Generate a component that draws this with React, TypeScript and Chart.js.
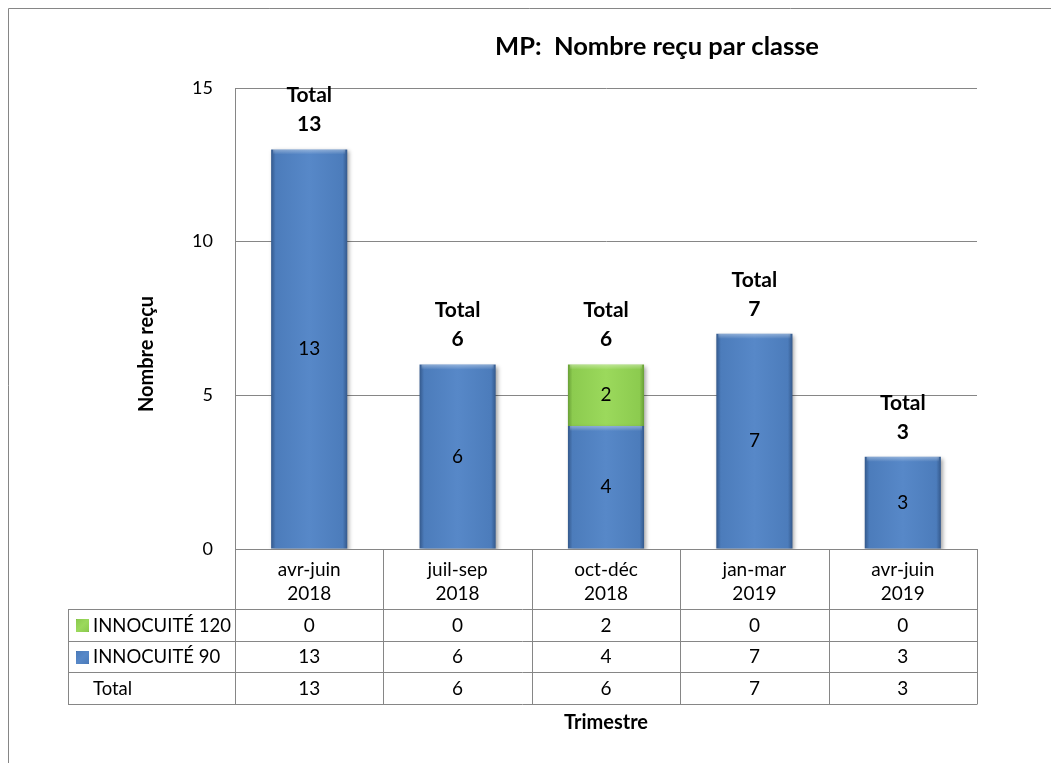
import React, { useEffect, useRef } from 'react';
import { Chart, registerables } from 'chart.js';

Chart.register(...registerables);

const categories: string[][] = [
  ['avr-juin', '2018'],
  ['juil-sep', '2018'],
  ['oct-déc', '2018'],
  ['jan-mar', '2019'],
  ['avr-juin', '2019'],
];
const innocuite120 = [0, 0, 2, 0, 0];
const innocuite90 = [13, 6, 4, 7, 3];
const totals = [13, 6, 6, 7, 3];
const seriesNames = ['INNOCUITÉ 120', 'INNOCUITÉ 90', 'Total'];
const yMin = 0;
const yMax = 15;
const yStep = 5;
const chartTitle = 'MP:  Nombre reçu par classe';
const yAxisTitle = 'Nombre reçu';
const xAxisTitle = 'Trimestre';

const FONT = 'Lato, "Open Sans", sans-serif';
const LINE = '#868686';
const W = 1051;
const H = 763;

const blueStops: [number, string][] = [
  [0, '#34598c'], [0.06, '#4c7cbb'], [0.5, '#5788c8'], [0.94, '#4c7cbb'], [1, '#34598c'],
];
const greenStops: [number, string][] = [
  [0, '#689f36'], [0.06, '#8ccb4f'], [0.5, '#9bd95c'], [0.94, '#8ccb4f'], [1, '#689f36'],
];

function barGradient(stops: [number, string][], solid: string) {
  return (ctx: any) => {
    const chart = ctx.chart;
    const xs = chart.scales?.x;
    if (!chart.chartArea || !xs || ctx.dataIndex === undefined) return solid;
    const cx = xs.getPixelForValue(ctx.dataIndex);
    const colW = xs.getPixelForValue(1) - xs.getPixelForValue(0);
    const half = (colW * 0.513) / 2;
    const g = chart.ctx.createLinearGradient(cx - half, 0, cx + half, 0);
    stops.forEach(([o, c]) => g.addColorStop(o, c));
    return g;
  };
}

const decorPlugin = {
  id: 'excelDecor',
  beforeDraw(chart: any) {
    const ctx = chart.ctx;
    ctx.save();
    ctx.fillStyle = '#ffffff';
    ctx.fillRect(0, 0, chart.width, chart.height);
    ctx.strokeStyle = LINE;
    ctx.lineWidth = 1;
    ctx.beginPath();
    ctx.moveTo(8.5, chart.height);
    ctx.lineTo(8.5, 8.5);
    ctx.lineTo(chart.width, 8.5);
    ctx.stroke();
    ctx.restore();
  },
  beforeDatasetsDraw(chart: any) {
    const ctx = chart.ctx;
    ctx.save();
    ctx.shadowColor = 'rgba(0,0,0,0.35)';
    ctx.shadowBlur = 4;
    ctx.shadowOffsetX = 2;
    ctx.shadowOffsetY = 2;
  },
  afterDatasetsDraw(chart: any) {
    const ctx = chart.ctx;
    ctx.restore();
    ctx.save();
    // top bevel highlight on each stack segment
    chart.data.datasets.forEach((ds: any, di: number) => {
      const meta = chart.getDatasetMeta(di);
      meta.data.forEach((bar: any, i: number) => {
        if (!ds.data[i]) return;
        const p = bar.getProps(['x', 'y', 'base', 'width'], true);
        const g = ctx.createLinearGradient(0, p.y, 0, p.y + 5);
        g.addColorStop(0, 'rgba(255,255,255,0.35)');
        g.addColorStop(1, 'rgba(255,255,255,0)');
        ctx.fillStyle = g;
        ctx.fillRect(p.x - p.width / 2 + 2, p.y, p.width - 4, 5);
      });
    });
    // segment value labels
    ctx.textAlign = 'center';
    ctx.textBaseline = 'middle';
    ctx.fillStyle = '#000000';
    ctx.font = `19px ${FONT}`;
    chart.data.datasets.forEach((ds: any, di: number) => {
      const meta = chart.getDatasetMeta(di);
      meta.data.forEach((bar: any, i: number) => {
        const v = ds.data[i];
        if (!v) return;
        const p = bar.getProps(['x', 'y', 'base'], true);
        ctx.fillText(String(v), p.x, (p.y + p.base) / 2);
      });
    });
    // totals above bars
    const xs = chart.scales.x;
    const ys = chart.scales.y;
    ctx.font = `bold 21px ${FONT}`;
    totals.forEach((t, i) => {
      const x = xs.getPixelForValue(i);
      const top = ys.getPixelForValue(t);
      ctx.fillText('Total', x, top - 54);
      ctx.fillText(String(t), x, top - 25);
    });
    ctx.restore();
  },
  afterDraw(chart: any) {
    const ctx = chart.ctx;
    const xs = chart.scales.x;
    const { left, right, top, bottom } = chart.chartArea;
    const n = categories.length;
    const colW = xs.getPixelForValue(1) - xs.getPixelForValue(0);
    const bounds: number[] = [];
    for (let i = 0; i <= n; i++) bounds.push(xs.getPixelForValue(i) - colW / 2);
    const hdrB = bottom + 60;
    const rowH = 31.5;
    const tblL = 68;
    const tblB = hdrB + rowH * 3;

    ctx.save();
    ctx.strokeStyle = LINE;
    ctx.lineWidth = 1;
    ctx.beginPath();
    const hl = (x1: number, x2: number, y: number) => {
      const yy = Math.round(y) + 0.5;
      ctx.moveTo(x1, yy);
      ctx.lineTo(x2, yy);
    };
    const vl = (x: number, y1: number, y2: number) => {
      const xx = Math.round(x) + 0.5;
      ctx.moveTo(xx, y1);
      ctx.lineTo(xx, y2);
    };
    hl(left, right, bottom);
    for (let r = 0; r <= 3; r++) hl(tblL, right, hdrB + r * rowH);
    vl(tblL, Math.round(hdrB) + 0.5, Math.round(tblB) + 0.5);
    bounds.forEach((b) => vl(b, bottom, Math.round(tblB) + 0.5));
    ctx.stroke();

    // header category labels
    ctx.fillStyle = '#000000';
    ctx.textAlign = 'center';
    ctx.textBaseline = 'middle';
    ctx.font = `19px ${FONT}`;
    categories.forEach((lines, i) => {
      const x = xs.getPixelForValue(i);
      lines.forEach((l, li) => ctx.fillText(l, x, bottom + 21 + li * 24));
    });

    // rows
    const rows = [innocuite120, innocuite90, totals];
    const markers: ([number, string][] | null)[] = [greenStops, blueStops, null];
    rows.forEach((vals, r) => {
      const cy = hdrB + rowH * r + rowH / 2;
      ctx.font = `19px ${FONT}`;
      vals.forEach((v, i) => {
        ctx.textAlign = 'center';
        ctx.fillText(String(v), xs.getPixelForValue(i), cy + 1);
      });
      const st = markers[r];
      if (st) {
        const mx = 76, ms = 13, my = Math.round(cy - ms / 2) + 1;
        const g = ctx.createLinearGradient(mx, my, mx + ms, my + ms);
        st.forEach(([o, c]) => g.addColorStop(o, c));
        ctx.fillStyle = g;
        ctx.fillRect(mx, my, ms, ms);
        ctx.fillStyle = '#000000';
      }
      ctx.textAlign = 'left';
      ctx.font = `18.5px ${FONT}`;
      ctx.fillText(seriesNames[r], 93, cy + 1);
    });

    // titles
    ctx.textAlign = 'center';
    ctx.font = `bold 25.5px ${FONT}`;
    ctx.fillText(chartTitle, 657, 47);
    ctx.font = `bold 20px ${FONT}`;
    ctx.fillText(xAxisTitle, (left + right) / 2, 723);
    ctx.save();
    ctx.translate(147, 354);
    ctx.rotate(-Math.PI / 2);
    ctx.font = `bold 20px ${FONT}`;
    ctx.fillText(yAxisTitle, 0, 0);
    ctx.restore();
    ctx.restore();
  },
};

export default function App() {
  const ref = useRef<HTMLCanvasElement | null>(null);
  useEffect(() => {
    if (!ref.current) return;
    const chart = new Chart(ref.current, {
      type: 'bar',
      data: {
        labels: categories,
        datasets: [
          {
            label: seriesNames[1],
            data: innocuite90,
            backgroundColor: barGradient(blueStops, '#4f81bd'),
            borderWidth: 0,
            barPercentage: 0.513,
            categoryPercentage: 1,
          },
          {
            label: seriesNames[0],
            data: innocuite120,
            backgroundColor: barGradient(greenStops, '#92d050'),
            borderWidth: 0,
            barPercentage: 0.513,
            categoryPercentage: 1,
          },
        ],
      },
      options: {
        responsive: false,
        animation: false,
        devicePixelRatio: 1,
        layout: { padding: { left: 0, top: 88, right: 74, bottom: 214 } },
        plugins: {
          legend: { display: false },
          title: { display: false },
          tooltip: { enabled: false },
        },
        scales: {
          x: {
            display: false,
            stacked: true,
          },
          y: {
            stacked: true,
            min: yMin,
            max: yMax,
            afterFit: (scale: any) => {
              scale.width = 235;
            },
            ticks: {
              stepSize: yStep,
              padding: 22,
              color: '#000000',
              font: { family: FONT, size: 18 },
            },
            grid: { color: LINE, drawTicks: false, lineWidth: 1 },
            border: { display: true, color: LINE },
          },
        },
      },
      plugins: [decorPlugin],
    });
    return () => chart.destroy();
  }, []);
  return (
    <div style={{ position: 'fixed', left: 0, top: 0, width: W, height: H, background: '#fff' }}>
      <canvas ref={ref} width={W} height={H} style={{ display: 'block', width: W, height: H }} />
    </div>
  );
}
